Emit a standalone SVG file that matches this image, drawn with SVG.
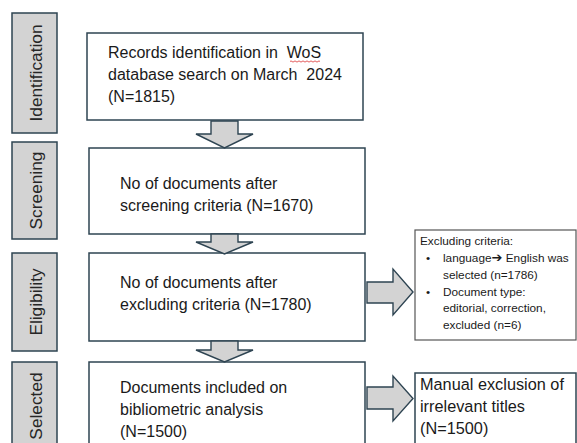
<svg xmlns="http://www.w3.org/2000/svg" width="577" height="443" viewBox="0 0 577 443">
  <style>
    text { white-space: pre; }
    .stage rect { fill: #d3d3d3; stroke: #2e4452; stroke-width: 1.5; }
    .stage text { font-family: "Liberation Sans", Arial, sans-serif; font-size: 17.3px; fill: #262626; text-anchor: middle; }
    .box rect { fill: #fff; stroke: #2e4452; stroke-width: 1.5; }
    .box text { font-family: "Liberation Sans", Arial, sans-serif; font-size: 16px; fill: #1a1a1a; }
    .note rect { fill: #fff; stroke: #555; stroke-width: 1.2; }
    .note text { font-family: "Liberation Sans", Arial, sans-serif; font-size: 11.8px; fill: #1a1a1a; }
    .arrow { fill: #d3d3d3; stroke: #2e4452; stroke-width: 1.4; stroke-linejoin: miter; }
  </style>

  <!-- stage labels -->
  <g id="stage-identification" class="stage">
    <rect x="12" y="13" width="45" height="120"/>
    <text transform="translate(41.5 73) rotate(-90)">Identification</text>
  </g>
  <g id="stage-screening" class="stage">
    <rect x="12" y="142" width="45" height="97"/>
    <text transform="translate(41.5 190.5) rotate(-90)">Screening</text>
  </g>
  <g id="stage-eligibility" class="stage">
    <rect x="12" y="253" width="45" height="98"/>
    <text transform="translate(41.5 302) rotate(-90)">Eligibility</text>
  </g>
  <g id="stage-selected" class="stage">
    <rect x="12" y="362" width="45" height="90"/>
    <text transform="translate(41.5 406) rotate(-90)">Selected</text>
  </g>

  <!-- main flow boxes -->
  <g id="records" class="box">
    <rect x="87" y="33" width="276" height="87"/>
    <text x="108" y="58">Records identification in  WoS</text>
    <text x="108" y="80">database search on March  2024</text>
    <text x="108" y="102">(N=1815)</text>
    <path d="M290 61.5 q1 -1.2 2 0 t2 0 t2 0 t2 0 t2 0 t2 0 t2 0 t2 0 t2 0 t2 0 t2 0 t2 0 t2 0 t2 0 t2 0" fill="none" stroke="#d33" stroke-width="0.8"/>
  </g>
  <g id="screened" class="box">
    <rect x="89" y="148" width="276" height="86"/>
    <text x="120" y="189">No of documents after</text>
    <text x="120" y="211">screening criteria (N=1670)</text>
  </g>
  <g id="eligible" class="box">
    <rect x="89" y="253" width="276" height="88"/>
    <text x="120" y="288">No of documents after</text>
    <text x="120" y="310">excluding criteria (N=1780)</text>
  </g>
  <g id="included" class="box">
    <rect x="89" y="362" width="276" height="90"/>
    <text x="120" y="393">Documents included on</text>
    <text x="120" y="415">bibliometric analysis</text>
    <text x="120" y="437">(N=1500)</text>
  </g>

  <!-- side notes -->
  <g id="exclusion-criteria" class="note">
    <rect x="415" y="230" width="161" height="110"/>
    <text x="420" y="245">Excluding criteria:</text>
    <text x="426" y="262">•</text>
    <text x="443" y="262">language<tspan font-family="'DejaVu Sans', sans-serif" font-weight="bold" font-size="13">➔</tspan> English was</text>
    <text x="443" y="279">selected (n=1786)</text>
    <text x="426" y="296">•</text>
    <text x="443" y="296">Document type:</text>
    <text x="443" y="312">editorial, correction,</text>
    <text x="443" y="329">excluded (n=6)</text>
  </g>
  <g id="manual-exclusion" class="box">
    <rect x="415" y="373" width="161" height="80"/>
    <text x="420" y="390" style="font-size:16.3px">Manual exclusion of</text>
    <text x="420" y="412" style="font-size:16.3px">irrelevant titles</text>
    <text x="420" y="434" style="font-size:16.3px">(N=1500)</text>
  </g>

  <!-- block arrows between steps -->
  <g id="connectors">
    <path class="arrow" d="M211 121 H238 V134 H253 L224.5 148 L196 134 H211 Z"/>
    <path class="arrow" d="M211 234 H238 V242 H253 L224.5 254 L196 242 H211 Z"/>
    <path class="arrow" d="M211 341 H238 V350 H253 L224.5 362 L196 350 H211 Z"/>
    <path class="arrow" d="M367 282 H393 V269 L413 292 L393 315 V303 H367 Z"/>
    <path class="arrow" d="M367 387 H393 V376 L413 398.5 L393 421 V409 H367 Z"/>
  </g>
</svg>
